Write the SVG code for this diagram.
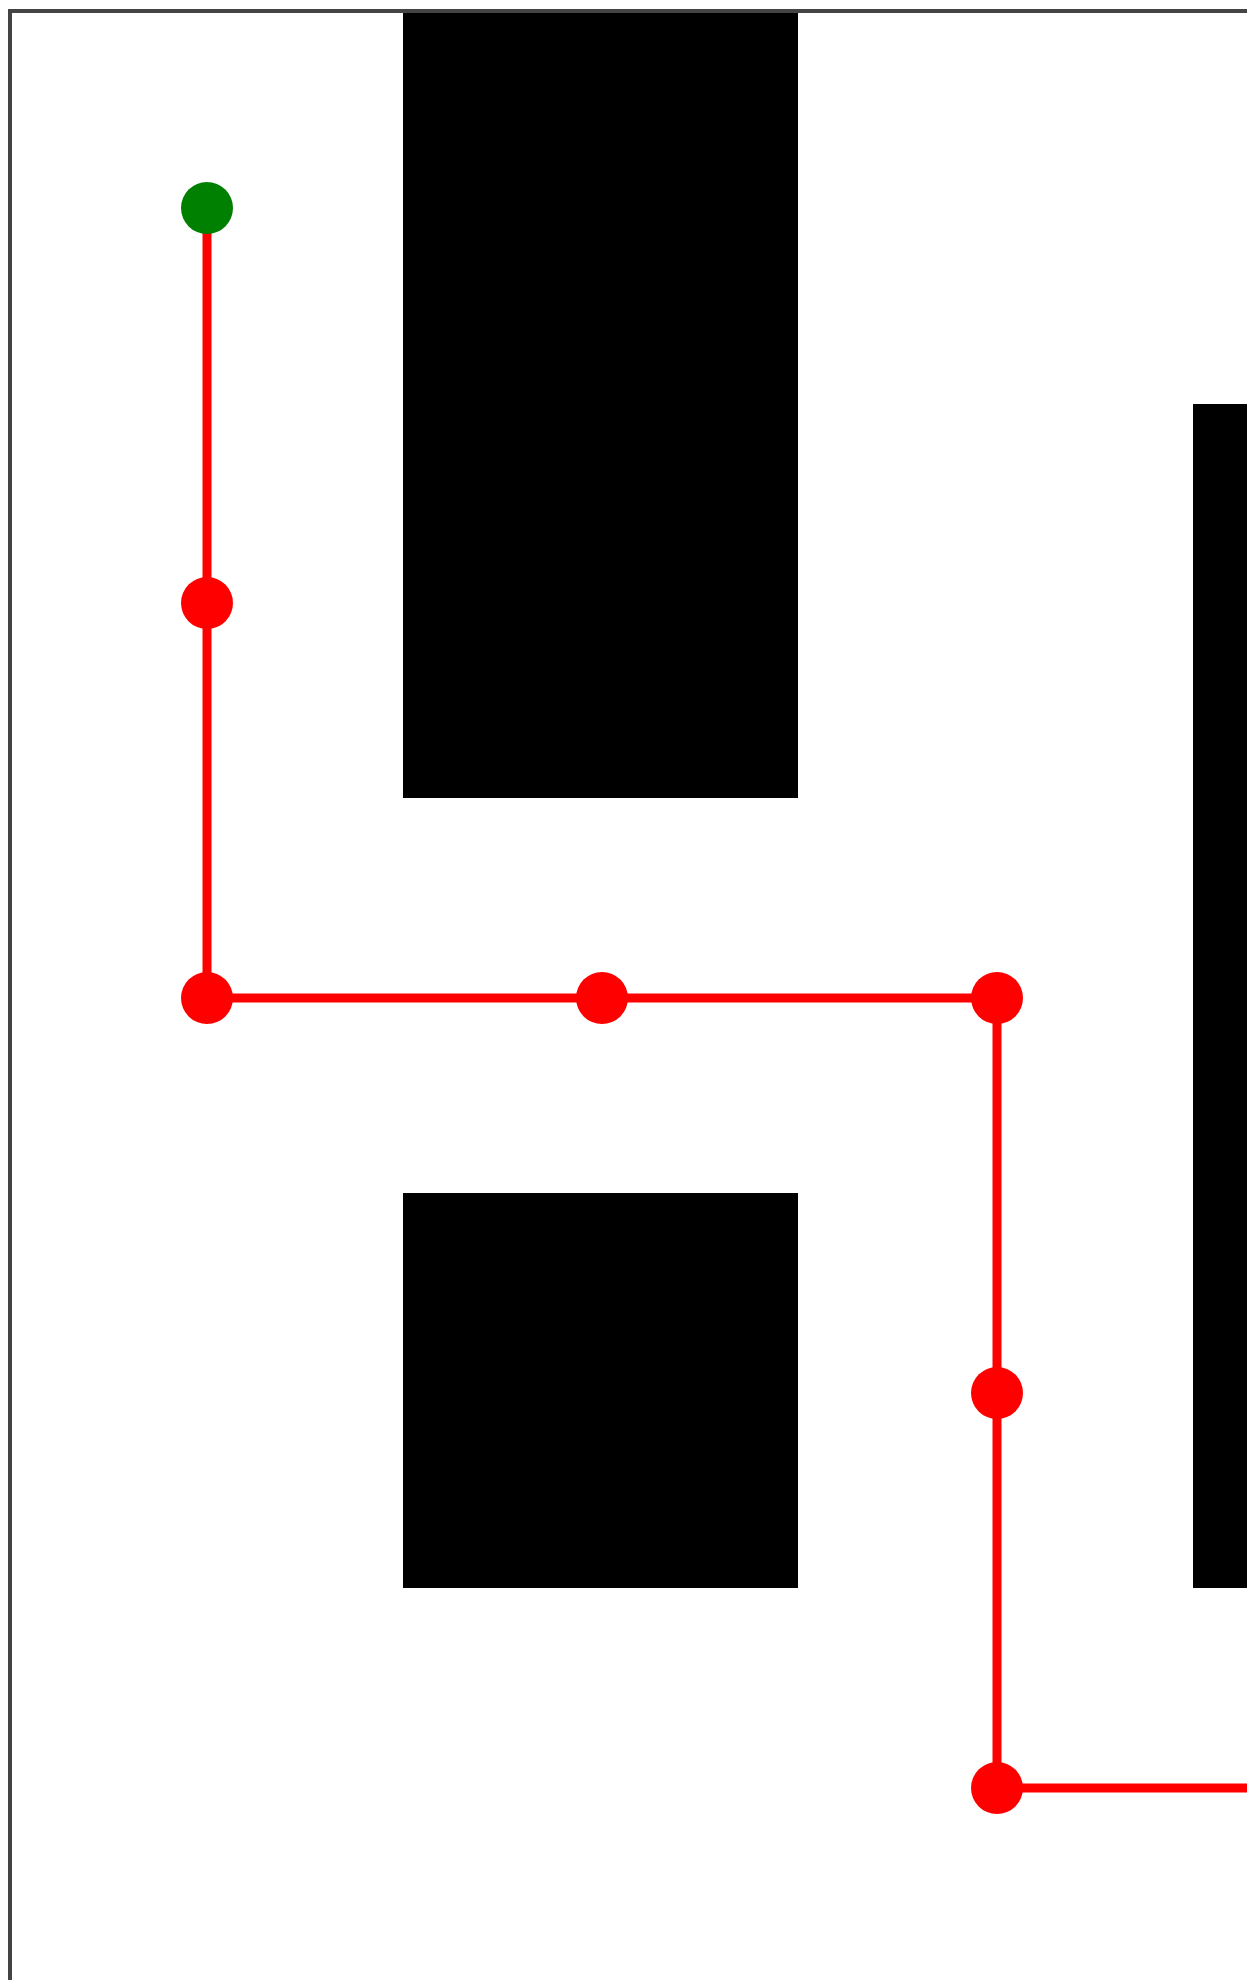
<svg xmlns="http://www.w3.org/2000/svg" width="1247" height="1980" viewBox="0 0 1247 1980">
<style>
.wall{fill:#000}
.path{fill:none;stroke:#ff0000;stroke-width:9}
.pt{fill:#ff0000}
.start{fill:#008000}
.border{fill:none;stroke:#444;stroke-width:4}
</style>
<rect width="1247" height="1980" fill="#fff"/>
<g id="walls">
<rect id="wall1" class="wall" x="403" y="10" width="395" height="788"/>
<rect id="wall2" class="wall" x="1193" y="404" width="80" height="1184"/>
<rect id="wall3" class="wall" x="403" y="1193" width="395" height="395"/>
</g>
<rect id="frame" class="border" x="10" y="11" width="1400" height="2000"/>
<g id="connectors">
<polyline class="path" points="207,208 207,998 997,998 997,1788 1260,1788"/>
</g>
<g id="n1"><circle class="pt" cx="207" cy="603" r="26"/></g>
<g id="n2"><circle class="pt" cx="207" cy="998" r="26"/></g>
<g id="n3"><circle class="pt" cx="602" cy="998" r="26"/></g>
<g id="n4"><circle class="pt" cx="997" cy="998" r="26"/></g>
<g id="n5"><circle class="pt" cx="997" cy="1393" r="26"/></g>
<g id="n6"><circle class="pt" cx="997" cy="1788" r="26"/></g>
<g id="start"><circle class="start" cx="207" cy="208" r="26"/></g>
</svg>
